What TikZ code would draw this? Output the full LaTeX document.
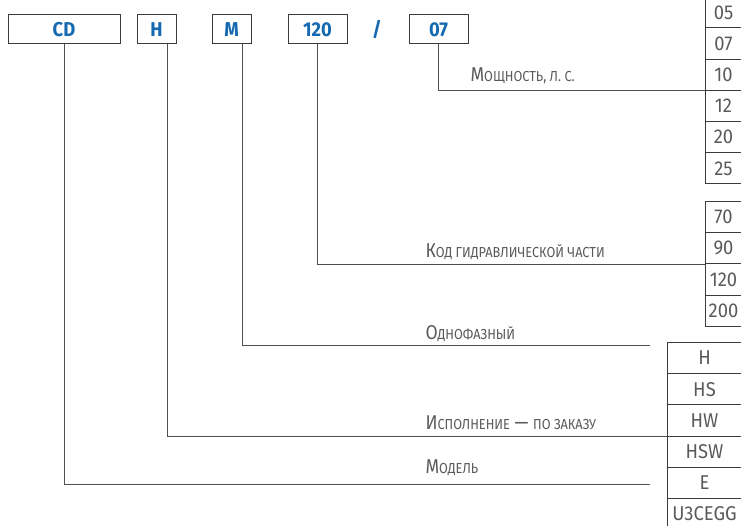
\documentclass[tikz,border=0pt]{standalone}
\usepackage{fontspec}
\setmainfont[FakeStretch=0.88]{Fira Sans}
\newfontfamily\cellfont[FakeStretch=0.92]{Fira Sans}
\newfontfamily\keyfont[FakeStretch=0.92]{Fira Sans}
\definecolor{keyblue}{HTML}{1469B0}
\definecolor{labelgray}{HTML}{5A5A5A}
\definecolor{linegray}{HTML}{3C3C3C}
\newcommand\smcap[2]{#1{\fontsize{14.5}{14.5}\selectfont #2}}
\begin{document}
\begin{tikzpicture}[x=1pt, y=-1pt, line width=1pt,
    keybox/.style={draw=linegray, minimum height=29pt, inner sep=0pt, text=keyblue,
        font={\keyfont\bfseries\fontsize{20}{20}\selectfont}},
    cell/.style={draw=linegray, minimum height=31.2pt, inner sep=0pt, text=labelgray,
        font={\cellfont\fontsize{20}{20}\selectfont}},
    lbl/.style={anchor=base west, inner sep=0pt, text=labelgray,
        font={\fontsize{20}{20}\selectfont}},
    lead/.style={draw=linegray!90!white}]
    \useasboundingbox (0,0) rectangle (741,526);
    
    % code boxes
    \node[keybox, minimum width=112pt] (cd) at (64,29.5) {CD};
    \node[keybox, minimum width=39pt] (h) at (156.5,29.5) {H};
    \node[keybox, minimum width=39pt] (m) at (231.5,29.5) {M};
    \node[keybox, minimum width=59pt] (code) at (317.5,29.5) {120};
    \node[keybox, draw=none] (sep) at (377,29.5) {/};
    \node[keybox, minimum width=59pt] (pw) at (438.5,29.5) {07};
    
    % option columns
    \foreach \v [count=\i] in {05,07,10,12,20,25}
    {
        \node[cell, minimum width=37pt] (p\v) at (723.5,{31.2*\i-18.8}) {\v};
    }
    \foreach \v [count=\i] in {70,90,120,200}
    {
        \node[cell, minimum width=37pt] (h\v) at (723.5,{31.2*\i+185.9}) {\v};
    }
    \foreach \v [count=\i] in {H,HS,HW,HSW,E,U3CEGG}
    {
        \node[cell, minimum width=75pt] (v\v) at (704.5,{31.2*\i+326.9}) {\v};
    }
    
    \coordinate (phaseEnd) at (650,345);
    \coordinate (modelEnd) at (650,484);
    \draw[lead] (pw.south) |- (p10.south west);
    \draw[lead] (code.south) |- (h90.south west);
    \draw[lead] ([xshift=10.5pt]m.south) |- (phaseEnd);
    \draw[lead] ([xshift=10.5pt]h.south) |- (vHW.south west);
    \draw[lead] (cd.south) |- (modelEnd);
    
    \node[lbl] (lpw) at (470,82) {\smcap{М}{ОЩНОСТЬ, Л. С.}};
    \node[lbl] (lcode) at (425,258) {\smcap{К}{ОД ГИДРАВЛИЧЕСКОЙ ЧАСТИ}};
    \node[lbl] (lphase) at (425,339) {\smcap{О}{ДНОФАЗНЫЙ}};
    \node[lbl] (lver) at (425,429) {\smcap{И}{СПОЛНЕНИЕ} — \smcap{}{ПО ЗАКАЗУ}};
    \node[lbl] (lmodel) at (425,473) {\smcap{М}{ОДЕЛЬ}};
    
\end{tikzpicture}
\end{document}
